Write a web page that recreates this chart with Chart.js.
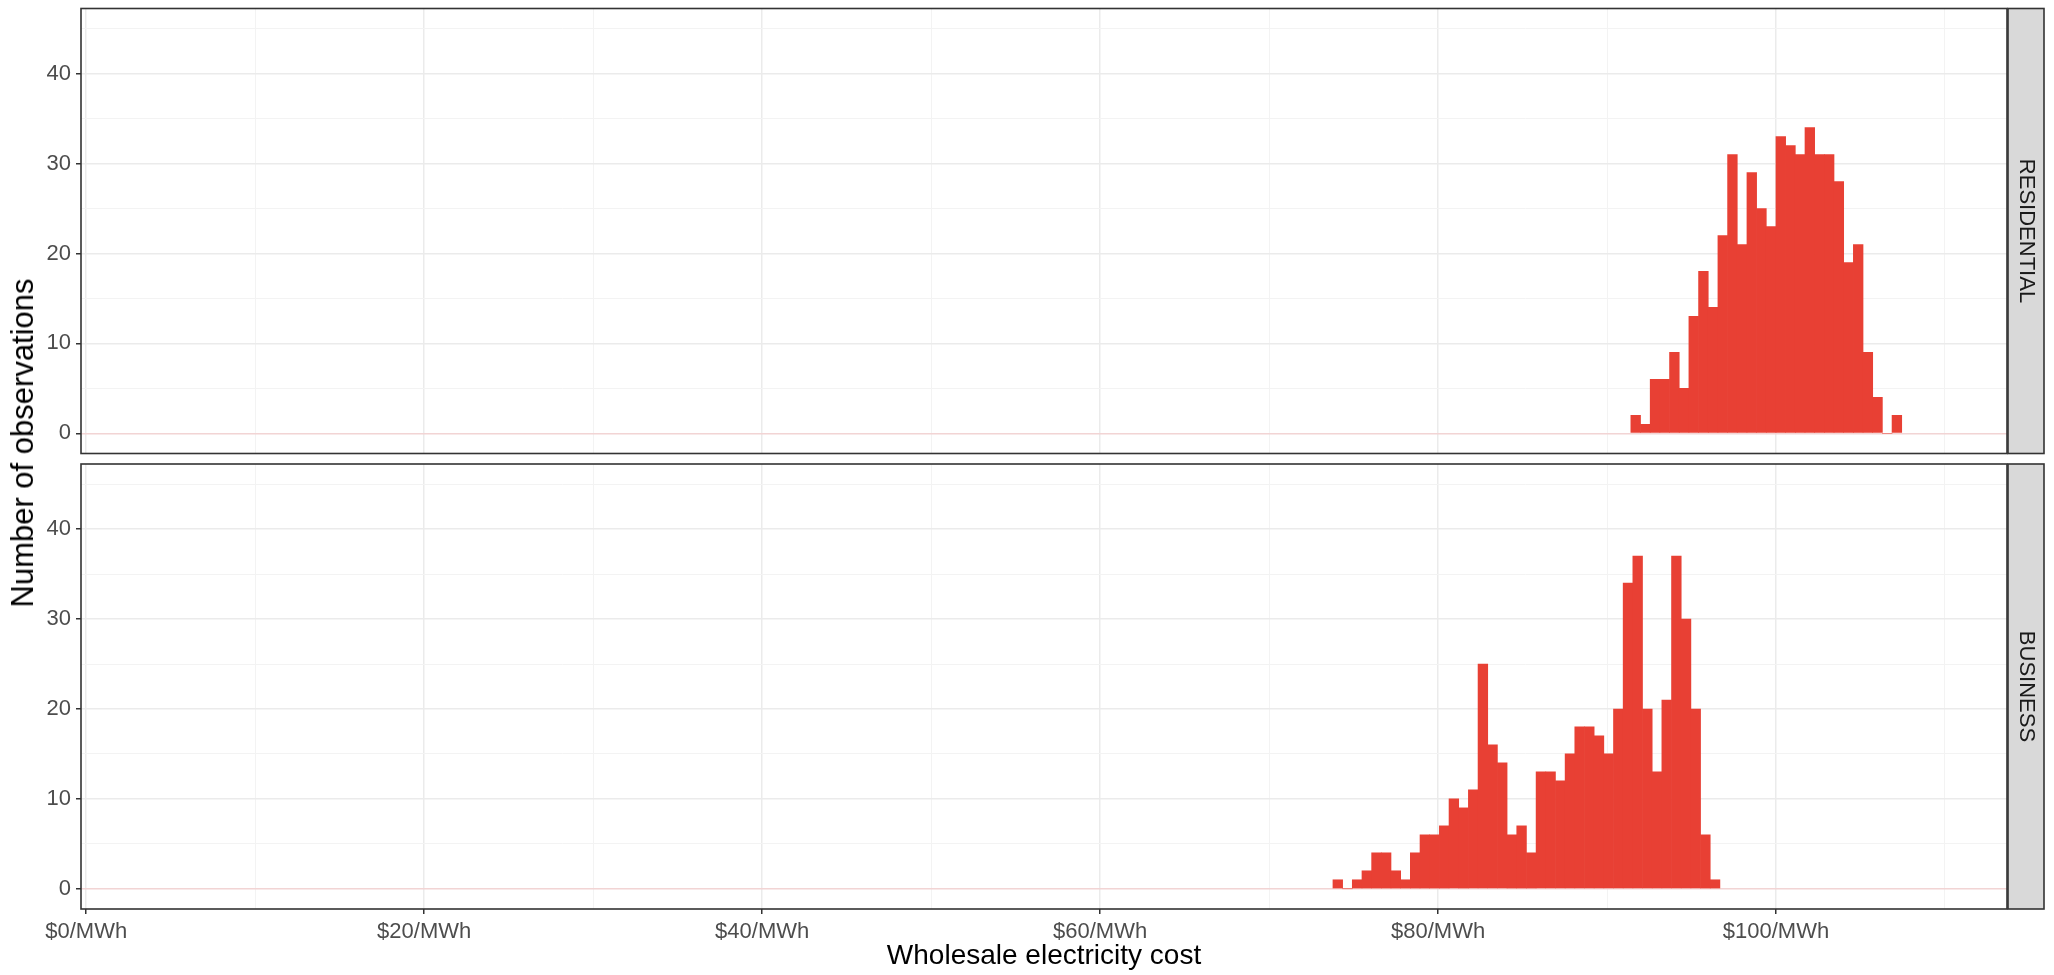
<!DOCTYPE html>
<html>
<head>
<meta charset="utf-8">
<script src="https://cdn.jsdelivr.net/npm/chart.js@4.4.1/dist/chart.umd.min.js"></script>
<style>
  body { margin: 0; background: #fff; width: 2054px; height: 975px; position: relative; overflow: hidden; }
  canvas { position: absolute; left: 0; }
  #top { top: 0; }
  #bottom { top: 459px; }
  #ytitle {
    position: absolute; left: 23px; top: 443px;
    transform: translate(-50%, -50%) rotate(-90deg);
    white-space: nowrap; color: #000;
    font: 31px "Liberation Sans", Arial, sans-serif;
  }
</style>
</head>
<body>
<canvas id="top" width="2054" height="459"></canvas>
<canvas id="bottom" width="2054" height="516"></canvas>
<div id="ytitle">Number of observations</div>
<script>
// histogram counts, one value per bin
const binWidth = 0.5725;
const residentialStart = 91.41;
const residentialCounts = [2, 1, 6, 6, 9, 5, 13, 18, 14, 22, 31, 21, 29, 25, 23, 33, 32, 31, 34, 31, 31, 28, 19, 21, 9, 4, 0, 2];
const businessStart = 73.78;
const businessCounts = [1, 0, 1, 2, 4, 4, 2, 1, 4, 6, 6, 7, 10, 9, 11, 25, 16, 14, 6, 7, 4, 13, 13, 12, 15, 18, 18, 17, 15, 20, 34, 37, 20, 13, 21, 37, 30, 20, 6, 1];

// axes
const xLabelTicks = [0, 20, 40, 60, 80, 100];
const xGridTicks = [0, 10, 20, 30, 40, 50, 60, 70, 80, 90, 100, 110];
const yLabelTicks = [0, 10, 20, 30, 40];
const yGridTicks = [0, 5, 10, 15, 20, 25, 30, 35, 40, 45];
const xMin = -0.31, xMax = 113.67;
const yMin = -2.25, yMax = 47.25;

const family = '"Liberation Sans", Arial, sans-serif';
const barColor = "#E84034";

// panel border + facet strip on the right
const panelFrame = {
  id: "panelFrame",
  afterDraw(chart, args, opts) {
    const { ctx, chartArea: a } = chart;
    ctx.save();
    ctx.strokeStyle = "#333333";
    ctx.lineWidth = 1.6;
    ctx.strokeRect(a.left, a.top, a.right - a.left, a.bottom - a.top);
    ctx.fillStyle = "#D9D9D9";
    ctx.fillRect(a.right + 1, a.top, 36, a.bottom - a.top);
    ctx.strokeRect(a.right + 1, a.top, 36, a.bottom - a.top);
    ctx.translate(a.right + 19, (a.top + a.bottom) / 2);
    ctx.rotate(Math.PI / 2);
    ctx.fillStyle = "#1A1A1A";
    ctx.font = "22px " + family;
    ctx.textAlign = "center";
    ctx.textBaseline = "middle";
    ctx.fillText(opts.label, 0, 0);
    ctx.restore();
  }
};

function makePanel(canvasId, label, start, counts, showX) {
  const points = counts.map((c, i) => ({ x: start + (i + 0.5) * binWidth, y: c }));

  return new Chart(document.getElementById(canvasId), {
    type: "bar",
    data: {
      datasets: [{
        data: points,
        backgroundColor: barColor,
        borderWidth: 0,
        barPercentage: 1,
        categoryPercentage: 1
      }]
    },
    plugins: [panelFrame],
    options: {
      responsive: false,
      animation: false,
      layout: { padding: { top: showX ? 5 : 8.5, right: 47, bottom: showX ? 0 : 5.5, left: 0 } },
      plugins: {
        legend: { display: false },
        tooltip: { enabled: false },
        panelFrame: { label: label }
      },
      scales: {
        x: {
          type: "linear",
          min: xMin,
          max: xMax,
          offset: false,
          afterBuildTicks: s => { s.ticks = xGridTicks.map(v => ({ value: v })); },
          afterFit: s => {
            s.height = showX ? 66 : 0;
            s.paddingLeft = 0;
            s.paddingRight = 0;
          },
          border: { display: false },
          grid: {
            offset: false,
            color: c => c.tick.value % 20 === 0 ? "#EBEBEB" : "#F3F3F3",
            lineWidth: c => c.tick.value % 20 === 0 ? 1.5 : 1,
            drawTicks: showX,
            tickLength: 5,
            tickWidth: 1.5,
            tickColor: c => xLabelTicks.includes(c.tick.value) ? "#333333" : "rgba(0,0,0,0)"
          },
          ticks: {
            display: showX,
            autoSkip: false,
            maxRotation: 0,
            padding: 5,
            color: "#4D4D4D",
            font: { size: 22, family: family },
            callback: v => xLabelTicks.includes(v) ? "$" + v + "/MWh" : ""
          },
          title: {
            display: showX,
            text: "Wholesale electricity cost",
            color: "#000000",
            font: { size: 28, family: family },
            padding: { top: 0, bottom: 2 }
          }
        },
        y: {
          min: yMin,
          max: yMax,
          afterBuildTicks: s => { s.ticks = yGridTicks.map(v => ({ value: v })); },
          afterFit: s => {
            s.width = 81;
            s.paddingTop = 0;
            s.paddingBottom = 0;
          },
          border: { display: false },
          grid: {
            color: c => c.tick.value === 0 ? "#F2D4D4" : (c.tick.value % 10 === 0 ? "#EBEBEB" : "#F3F3F3"),
            lineWidth: c => c.tick.value % 10 === 0 ? 1.5 : 1,
            tickLength: 5,
            tickWidth: 1.5,
            tickColor: c => yLabelTicks.includes(c.tick.value) ? "#333333" : "rgba(0,0,0,0)"
          },
          ticks: {
            autoSkip: false,
            padding: 5,
            color: "#4D4D4D",
            font: { size: 22, family: family },
            callback: v => yLabelTicks.includes(v) ? String(v) : ""
          }
        }
      }
    }
  });
}

makePanel("top", "RESIDENTIAL", residentialStart, residentialCounts, false);
makePanel("bottom", "BUSINESS", businessStart, businessCounts, true);
</script>
</body>
</html>
